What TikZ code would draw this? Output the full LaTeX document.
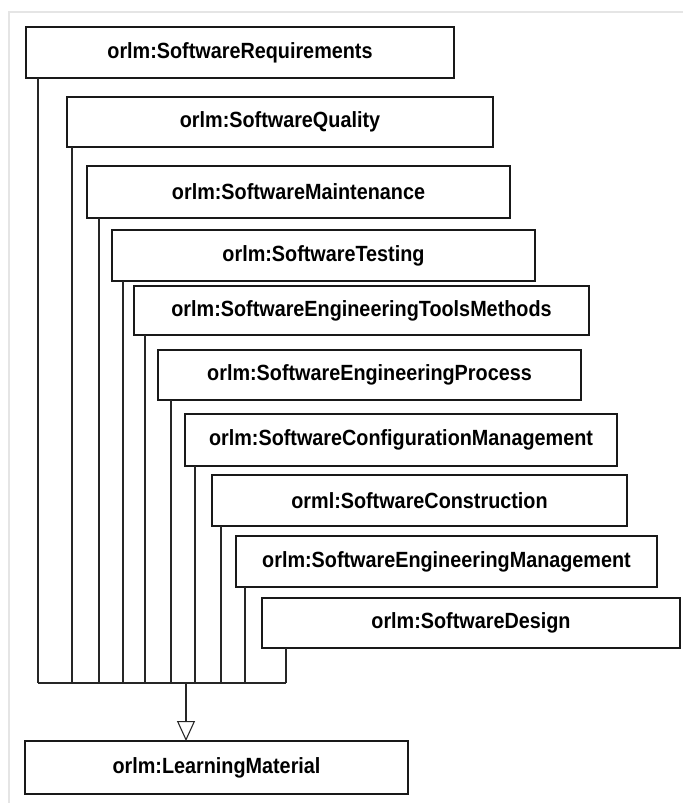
\documentclass[tikz,border=0pt]{standalone}
\usepackage{fontspec}
\setmainfont{Liberation Sans}[FakeStretch=0.9]
\usetikzlibrary{arrows.meta,fit}

\tikzset{
  umlbox/.style={draw=black!90, line width=1.6pt, fill=white, inner sep=0pt, outer sep=0pt,
    label={[labeltext]center:#1}},
  labeltext/.style={inner sep=0pt, font=\fontsize{16.5}{18}\selectfont\bfseries},
  link/.style={draw=black!85, line width=0.8pt},
  inherit/.style={link, -{Triangle[open, length=15pt, width=13.5pt, line width=0.8pt]}},
  frameline/.style={draw=black!10, line width=1.5pt}
}

\begin{document}
\begin{tikzpicture}[x=0.75pt, y=-0.75pt]
  \useasboundingbox (0,0) rectangle (683,803);
  \fill[white] (0,0) rectangle (683,803);
  \draw[frameline] (9,803) -- (9,12) -- (683,12);

  % subclass boxes, each one a step further right
  \node[umlbox=orlm:SoftwareRequirements, fit={(26,27) (454,78)}] (req) {};
  \node[umlbox=orlm:SoftwareQuality, fit={(67,97) (493,147)}] (qual) {};
  \node[umlbox=orlm:SoftwareMaintenance, fit={(87,166) (510,218)}] (mnt) {};
  \node[umlbox=orlm:SoftwareTesting, fit={(112,230) (535,281)}] (tst) {};
  \node[umlbox=orlm:SoftwareEngineeringToolsMethods, fit={(134,286) (589,335)}] (tls) {};
  \node[umlbox=orlm:SoftwareEngineeringProcess, fit={(158,350) (581,400)}] (prc) {};
  \node[umlbox=orlm:SoftwareConfigurationManagement, fit={(185,414) (617,466)}] (cfg) {};
  \node[umlbox=orml:SoftwareConstruction, fit={(212,475) (627,526)}] (con) {};
  \node[umlbox=orlm:SoftwareEngineeringManagement, fit={(236,536) (657,587)}] (mgt) {};
  \node[umlbox=orlm:SoftwareDesign, fit={(262,598) (680,648)}] (dsg) {};

  % superclass
  \node[umlbox=orlm:LearningMaterial, fit={(25,741) (408,794)}] (lm) {};

  % feet of the vertical lines on the shared bar
  \coordinate (f1)  at (38,683);
  \coordinate (f2)  at (72,683);
  \coordinate (f3)  at (99,683);
  \coordinate (f4)  at (123,683);
  \coordinate (f5)  at (145,683);
  \coordinate (f6)  at (171,683);
  \coordinate (f7)  at (195,683);
  \coordinate (f8)  at (221,683);
  \coordinate (f9)  at (245,683);
  \coordinate (f10) at (286,683);
  \coordinate (hub) at (186,683);

  \draw[link] (req.south -| f1)  -- (f1);
  \draw[link] (qual.south -| f2) -- (f2);
  \draw[link] (mnt.south -| f3)  -- (f3);
  \draw[link] (tst.south -| f4)  -- (f4);
  \draw[link] (tls.south -| f5)  -- (f5);
  \draw[link] (prc.south -| f6)  -- (f6);
  \draw[link] (cfg.south -| f7)  -- (f7);
  \draw[link] (con.south -| f8)  -- (f8);
  \draw[link] (mgt.south -| f9)  -- (f9);
  \draw[link] (dsg.south -| f10) -- (f10);
  \draw[link] (f1) -- (f10);

  % generalisation arrow
  \draw[inherit] (hub) -- (lm.north -| hub);
\end{tikzpicture}
\end{document}
